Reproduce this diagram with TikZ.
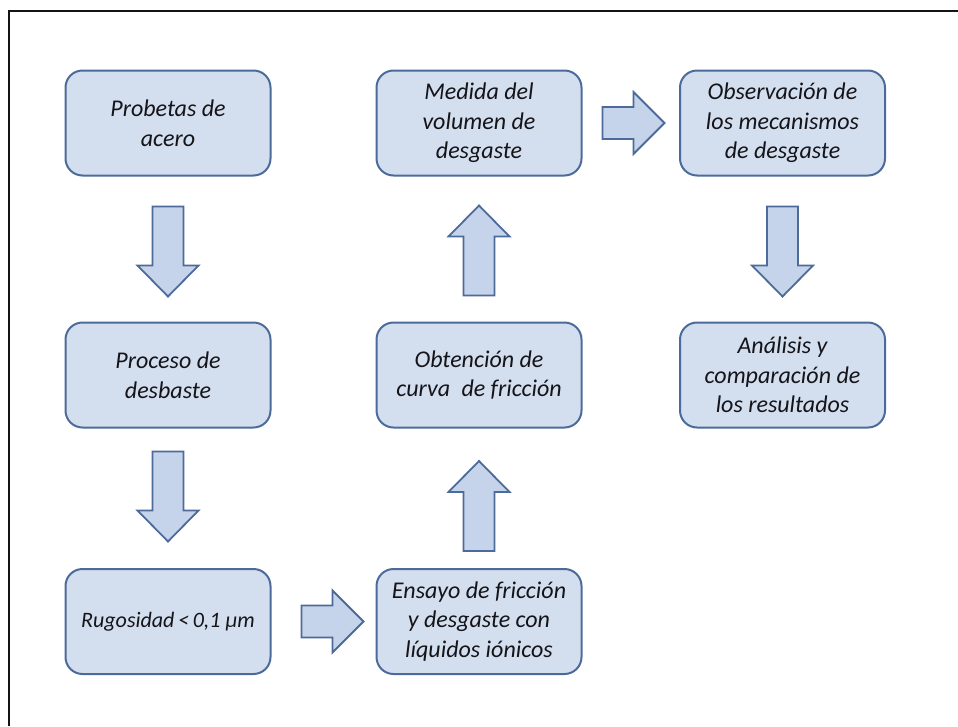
\documentclass[tikz,border=0pt]{standalone}
\usepackage{fontspec}
\setmainfont{Carlito}
\usetikzlibrary{calc}
\definecolor{boxfill}{RGB}{211,222,238}
\definecolor{arrowfill}{RGB}{197,212,234}
\definecolor{boxline}{RGB}{76,106,154}
\definecolor{framecol}{RGB}{20,20,20}
\definecolor{textcol}{RGB}{20,20,25}
\newcommand\blkdown[1]{\draw[blockarrow] (#1) ++(-15.5,-45) -- ++(31,0) -- ++(0,59) -- ++(15,0) -- ++(-30.5,31) -- ++(-30.5,-31) -- ++(15,0) -- cycle;}
\newcommand\blkup[1]{\draw[blockarrow] (#1) ++(-15.5,45) -- ++(31,0) -- ++(0,-59) -- ++(15,0) -- ++(-30.5,-31) -- ++(-30.5,31) -- ++(15,0) -- cycle;}
\newcommand\blkright[1]{\draw[blockarrow] (#1) ++(-31,-16) -- ++(31,0) -- ++(0,-15) -- ++(31,31) -- ++(-31,31) -- ++(0,-15) -- ++(-31,0) -- cycle;}
\begin{document}
\begin{tikzpicture}[x=1pt,y=-1pt,
  box/.style={draw=boxline, line width=2pt, fill=boxfill, rounded corners=17pt,
    minimum width=205pt, minimum height=105pt, align=center, inner sep=0pt,
    font=\fontsize{24}{29.5}\selectfont\itshape, text=textcol},
  blockarrow/.style={draw=boxline, line width=1.8pt, fill=arrowfill, line join=miter}]
\useasboundingbox (0,0) rectangle (958,726);
\draw[line width=2pt, framecol] (958,10.5) -- (9,10.5) -- (9,726);

\node[box] (probetas) at (168,123) {Probetas de\\acero};
\node[box] (proceso) at (168,375) {Proceso de\\desbaste};
\node[box] (rugosidad) at (168,621.5) {\fontsize{22}{27}\selectfont Rugosidad\,<\,0,1 µm};
\node[box] (ensayo) at (479,621.5) {Ensayo de fricción\\y desgaste con\\líquidos iónicos};
\node[box] (obtencion) at (479,375) {Obtención de\\curva\hspace{0.25em} de fricción};
\node[box] (medida) at (479,123) {Medida del\\volumen de\\desgaste};
\node[box] (observacion) at (782.5,123) {Observación de\\los mecanismos\\de desgaste};
\node[box] (analisis) at (782.5,375) {Análisis y\\comparación de\\los resultados};

\coordinate (d1) at ($(probetas.south)+(0,75)$);
\coordinate (d2) at ($(proceso.south)+(0,68)$);
\coordinate (r1) at ($(rugosidad.east)+(61,0)$);
\coordinate (u2) at ($(ensayo.north)+(0,-62)$);
\coordinate (u1) at ($(obtencion.north)+(0,-71)$);
\coordinate (r2) at ($(medida.east)+(51,0)$);
\coordinate (d3) at ($(observacion.south)+(0,75)$);

\blkdown{d1}
\blkdown{d2}
\blkright{r1}
\blkup{u2}
\blkup{u1}
\blkright{r2}
\blkdown{d3}
\end{tikzpicture}
\end{document}
